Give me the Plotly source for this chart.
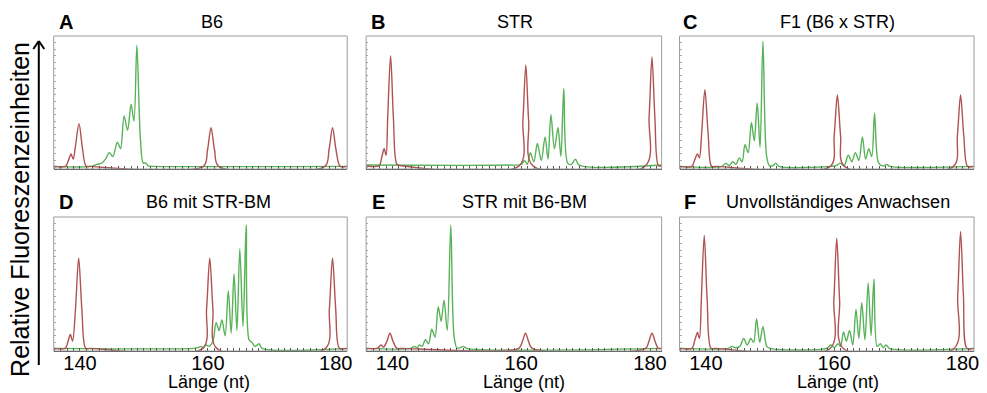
import plotly.graph_objects as go

W, H = 987, 393

# ---------------- data ----------------
panel_letters = ["A", "B", "C", "D", "E", "F"]
panel_titles = ["B6", "STR", "F1 (B6 x STR)", "B6 mit STR-BM", "STR mit B6-BM", "Unvollständiges Anwachsen"]
tick_values = [140, 160, 180]
tick_labels = ["140", "160", "180"]
x_title = "Länge (nt)"
y_title = "Relative Fluoreszenzeinheiten"

# size-standard (red) traces
red_A_x = [135.9, 137.7, 138.2, 138.6, 138.95, 139.3, 139.85, 140.4, 140.95, 141.6, 159.3, 159.95, 160.5, 161.05, 161.7, 178.3, 178.95, 179.5, 180.05, 180.7, 181.8]
red_A_y = [0.5, 0.5, 5, 10, 6, 16, 33, 14, 0.8, 0.5, 0.5, 13, 30, 13, 0.5, 0.5, 13, 30, 13, 0.5, 0.5]
red_B_x = [135.9, 137.9, 138.35, 138.7, 139.0, 139.25, 139.7, 140.15, 140.7, 141.4, 159.7, 160.25, 160.7, 161.15, 161.8, 179.3, 179.85, 180.3, 180.75, 181.3, 181.8]
red_B_y = [1, 1, 8, 14, 9, 38, 85, 36, 2, 1, 1, 35, 78, 35, 1, 1, 38, 84, 38, 1, 1]
red_C_x = [135.9, 137.8, 138.3, 138.7, 139.0, 139.35, 139.85, 140.35, 140.9, 141.6, 159.4, 160.0, 160.5, 161.0, 161.6, 178.6, 179.2, 179.7, 180.2, 180.8, 181.8]
red_C_y = [0.5, 0.5, 6, 10, 7, 26, 59, 26, 0.5, 0.5, 0.5, 24, 55, 24, 0.5, 0.5, 24, 55, 24, 0.5, 0.5]
red_D_x = [135.9, 137.7, 138.15, 138.5, 138.85, 139.3, 139.8, 140.3, 140.9, 141.6, 159.2, 159.8, 160.3, 160.8, 161.4, 178.4, 179.0, 179.5, 180.0, 180.6, 181.8]
red_D_y = [0.5, 0.5, 6, 11, 6, 30, 69, 30, 0.5, 0.5, 0.5, 30, 69, 30, 0.5, 0.5, 30, 69, 30, 0.5, 0.5]
red_E_x = [135.9, 137.6, 138.2, 138.6, 139.1, 139.6, 140.1, 140.7, 141.4, 159.6, 160.15, 160.65, 161.15, 161.7, 179.3, 179.8, 180.3, 180.8, 181.3, 181.8]
red_E_y = [0.5, 0.5, 3, 1.5, 5.5, 12, 5.5, 0.5, 0.5, 0.5, 5.5, 12, 5.5, 0.5, 0.5, 5.5, 12, 5.5, 0.5, 0.5]
red_F_x = [135.9, 137.8, 138.3, 138.7, 139.0, 139.3, 139.75, 140.2, 140.8, 141.5, 159.4, 159.95, 160.4, 160.85, 161.4, 178.7, 179.25, 179.7, 180.15, 180.7, 181.8]
red_F_y = [0.5, 0.5, 7, 12.5, 8, 38, 86, 38, 0.5, 0.5, 0.5, 37, 84, 37, 0.5, 0.5, 40, 89, 40, 0.5, 0.5]

# sample (green) traces
green_A_x = [135.9, 141.8, 142.6, 143.4, 144.0, 144.6, 145.15, 145.85, 146.35, 146.9, 147.45, 148.0, 148.45, 148.9, 149.45, 149.9, 150.3, 150.7, 151.6, 181.8]
green_A_y = [0.5, 0.5, 2, 3, 6, 11, 8, 19, 14, 39, 28, 48, 35, 93, 22, 3, 3, 0.8, 0.5, 0.5]
green_B_x = [135.9, 158.0, 160.0, 160.5, 160.95, 161.4, 161.95, 162.5, 163.1, 163.7, 164.15, 164.6, 165.15, 165.7, 166.15, 166.6, 167.2, 167.8, 168.4, 169.0, 181.8]
green_B_y = [1.5, 1.5, 2, 5, 2, 11, 4, 18, 5, 23, 6, 40, 14, 30, 8, 60, 3, 2, 6, 1.5, 1.5]
green_C_x = [135.9, 142.5, 143.1, 143.65, 144.2, 144.7, 145.2, 145.65, 146.1, 146.6, 147.1, 147.55, 148.0, 148.45, 148.9, 149.45, 149.9, 150.4, 150.9, 151.4,
             159.5, 160.3, 160.9, 161.55, 162.2, 162.75, 163.3, 163.85, 164.4, 164.9, 165.4, 165.85, 166.3, 166.85, 167.4, 167.8, 168.2, 168.7, 181.8]
green_C_y = [0.5, 0.5, 3, 1, 4, 2, 7, 4, 17, 11, 34, 20, 49, 15, 96, 9, 1, 1, 3, 0.5,
             0.5, 1, 3, 1, 9, 4, 11, 5, 23, 6, 14, 8, 41, 4, 1, 1, 2, 0.5, 0.5]
green_D_x = [135.9, 157.8, 158.4, 158.9, 159.3, 159.7, 160.2, 160.8, 161.3, 161.75, 162.2, 162.7, 163.2, 163.65, 164.1, 164.55, 165.0, 165.5, 166.0, 166.45, 166.9, 167.4, 168.0, 168.5, 181.8]
green_D_y = [0.5, 0.5, 1, 2, 1, 3, 2, 6, 20, 14, 22, 10, 44, 12, 57, 14, 76, 17, 94, 7, 5, 2, 4, 0.5, 0.5]
green_E_x = [135.9, 142.8, 143.4, 143.8, 144.2, 144.6, 145.1, 145.6, 146.1, 146.6, 147.1, 147.55, 148.0, 148.5, 149.05, 149.55, 150.0, 150.5, 151.0, 151.5, 181.8]
green_E_y = [0.5, 0.5, 2, 1, 3, 2, 7, 4, 15, 9, 32, 21, 37, 14, 94, 10, 0.8, 1, 2, 0.5, 0.5]
green_F_x = [135.9, 143.5, 144.1, 144.6, 145.3, 145.9, 146.45, 147.0, 147.45, 147.9, 148.4, 148.9, 149.5, 150.0,
             158.8, 159.5, 160.0, 160.6, 161.0, 161.45, 161.9, 162.4, 162.9, 163.4, 163.85, 164.3, 164.8, 165.3, 165.75, 166.2, 166.7, 167.2, 167.65, 168.1, 168.6, 181.8]
green_F_y = [0.5, 0.5, 2, 1, 2, 8, 3, 8, 5, 23, 5, 17, 2, 0.5,
             0.5, 3, 1, 4, 2, 13, 6, 14, 3, 30, 8, 35, 7, 50, 10, 53, 2, 4, 1, 3, 0.5, 0.5]

red_traces = [(red_A_x, red_A_y), (red_B_x, red_B_y), (red_C_x, red_C_y),
              (red_D_x, red_D_y), (red_E_x, red_E_y), (red_F_x, red_F_y)]
green_traces = [(green_A_x, green_A_y), (green_B_x, green_B_y), (green_C_x, green_C_y),
                (green_D_x, green_D_y), (green_E_x, green_E_y), (green_F_x, green_F_y)]

# ---------------- layout geometry (pixels) ----------------
col_px = [(54, 349), (368, 665), (683, 979)]
row_px = [(36, 169), (217, 351)]
letter_x = [66, 380, 694]
title_x = [[213, 518, 842], [210, 527, 842]]
row_title_y = [22, 202]
x_range = [135.9, 181.8]
y_range = [-1.5, 100]

RED = "#b05252"
GREEN = "#58b258"

fig = go.Figure()
layout = dict(width=W, height=H, margin=dict(l=0, r=0, t=0, b=0),
              paper_bgcolor="white", plot_bgcolor="white", showlegend=False,
              font=dict(family="Liberation Sans, Arial, sans-serif", color="black"))
annotations = []
shapes = []

def px_x(p):
    return p / W

def px_y(p):
    return 1 - p / H

for i in range(6):
    r, c = divmod(i, 3)
    n = i + 1
    xa = "x" if n == 1 else f"x{n}"
    ya = "y" if n == 1 else f"y{n}"
    x0, x1 = col_px[c]
    y0, y1 = row_px[r]
    bottom = (r == 1)

    layout[f"xaxis{'' if n == 1 else n}"] = dict(
        domain=[px_x(x0), px_x(x1)], anchor=ya, range=x_range,
        showgrid=False, zeroline=False, showline=True, linecolor="#3a3a3a", linewidth=1.2,
        tickvals=tick_values, ticktext=tick_labels, showticklabels=bottom, ticks="", ticklen=0,
        ticklabelstandoff=-6,
        tickfont=dict(size=20, color="black"),
        minor=dict(ticks="inside", dtick=1, ticklen=3, tickcolor="#555", tickwidth=1),
    )
    layout[f"yaxis{'' if n == 1 else n}"] = dict(
        domain=[px_y(y1), px_y(y0)], anchor=xa, range=y_range,
        showgrid=False, zeroline=False, showline=False, showticklabels=False,
        ticks="inside", tick0=0, dtick=5, ticklen=2, tickcolor="#aaa", tickwidth=1,
    )
    shapes.append(dict(type="rect", xref=f"{xa} domain", yref=f"{ya} domain",
                       x0=0, x1=1, y0=0, y1=1, line=dict(color="#9c9c9c", width=1)))

    rx, ry = red_traces[i]
    gx, gy = green_traces[i]
    fig.add_trace(go.Scatter(x=gx, y=gy, mode="lines", xaxis=xa, yaxis=ya,
                             line=dict(color=GREEN, width=1.4, shape="spline", smoothing=0.9),
                             hoverinfo="skip"))
    fig.add_trace(go.Scatter(x=rx, y=ry, mode="lines", xaxis=xa, yaxis=ya,
                             line=dict(color=RED, width=1.4, shape="spline", smoothing=0.9),
                             hoverinfo="skip"))

    # panel letter and title
    annotations.append(dict(text=f"<b>{panel_letters[i]}</b>", xref="paper", yref="paper",
                            x=px_x(letter_x[c]), y=px_y(row_title_y[r]), xanchor="center", yanchor="middle",
                            showarrow=False, font=dict(size=20)))
    annotations.append(dict(text=panel_titles[i], xref="paper", yref="paper",
                            x=px_x(title_x[r][c]), y=px_y(row_title_y[r]), xanchor="center", yanchor="middle",
                            showarrow=False, font=dict(size=18)))
    if bottom:
        annotations.append(dict(text=x_title, xref="paper", yref="paper",
                                x=px_x(title_x[1][c]), y=px_y(382), xanchor="center", yanchor="middle",
                                showarrow=False, font=dict(size=18)))

# y-axis title and arrow
annotations.append(dict(text=y_title, xref="paper", yref="paper", x=px_x(20), y=px_y(209),
                        xanchor="center", yanchor="middle", textangle=-90, showarrow=False,
                        font=dict(size=25)))
shapes.append(dict(type="line", xref="paper", yref="paper", x0=px_x(39), x1=px_x(39),
                   y0=px_y(365), y1=px_y(41), line=dict(color="black", width=2)))
shapes.append(dict(type="line", xref="paper", yref="paper", x0=px_x(33.5), x1=px_x(39),
                   y0=px_y(49), y1=px_y(41), line=dict(color="black", width=2)))
shapes.append(dict(type="line", xref="paper", yref="paper", x0=px_x(44.5), x1=px_x(39),
                   y0=px_y(49), y1=px_y(41), line=dict(color="black", width=2)))

layout["annotations"] = annotations
layout["shapes"] = shapes
fig.update_layout(**layout)
fig.write_html("out.html")
